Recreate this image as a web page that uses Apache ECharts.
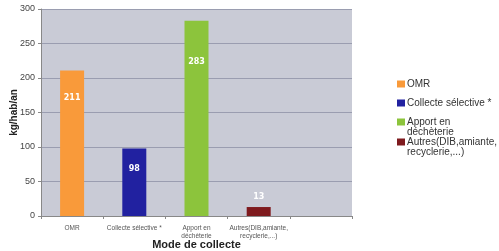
<!DOCTYPE html>
<html lang="fr">
<head>
<meta charset="UTF-8">
<title>Mode de collecte</title>
<script src="https://cdn.jsdelivr.net/npm/echarts@6.0.0/dist/echarts.min.js"></script>
<style>
  html, body { margin: 0; padding: 0; background: #fff; }
  #chart { width: 499px; height: 251px; }
</style>
</head>
<body>
<div id="chart"></div>
<script>
  // données
  const categories = ['OMR', 'Collecte sélective *', 'Apport en\ndéchèterie', 'Autres(DIB,amiante,\nrecyclerie,...)', ''];
  const seriesNames = ['OMR', 'Collecte sélective *', 'Apport en\ndéchèterie', 'Autres(DIB,amiante,\nrecyclerie,...)'];
  const values = [211, 98, 283, 13];
  const colors = ['#f99a3a', '#2121a0', '#8cc43c', '#7e1a1e'];
  const yTicks = [0, 50, 100, 150, 200, 250, 300];

  // style : écart du libellé sous le haut de la barre (négatif = au-dessus)
  const labelDist = [24, 17, 37, -6];
  // centre vertical de la 1re ligne de chaque entrée de légende
  const legendCenters = [84, 103, 122, 142];

  const chart = echarts.init(document.getElementById('chart'));

  const series = seriesNames.map((name, i) => {
    const inside = labelDist[i] >= 0;
    return {
      name: name,
      type: 'bar',
      stack: 'all',
      barWidth: 24,
      itemStyle: { color: colors[i] },
      label: {
        show: true,
        position: inside ? 'insideTop' : 'top',
        distance: Math.abs(labelDist[i]),
        color: '#fff',
        fontWeight: 'bold',
        fontSize: 8,
        fontFamily: 'DejaVu Sans'
      },
      data: categories.map((c, j) => (j === i ? values[i] : '-'))
    };
  });

  // une légende par entrée ; les noms sur 2 lignes reçoivent une ligne vide
  // au-dessus pour que le carré reste aligné sur la 1re ligne
  const legends = seriesNames.map((name, i) => {
    const multi = name.indexOf('\n') >= 0;
    return {
      orient: 'vertical',
      left: 397,
      top: legendCenters[i] - (multi ? 15 : 5),
      padding: 0,
      itemWidth: 8,
      itemHeight: 7,
      icon: 'rect',
      align: 'left',
      formatter: n => (multi ? ' \n' + n : n),
      textStyle: { fontSize: 10, color: '#333', lineHeight: 10, padding: [0, 0, 0, -3] },
      data: [name]
    };
  });

  chart.setOption({
    animation: false,
    textStyle: { fontFamily: 'Liberation Sans' },
    grid: {
      left: 41, right: 147, top: 9, bottom: 35,
      outerBoundsMode: 'none',
      containLabel: false,
      show: true,
      backgroundColor: '#c9cbd6',
      borderWidth: 0
    },
    legend: legends,
    xAxis: {
      type: 'category',
      data: categories,
      name: 'Mode de collecte',
      nameLocation: 'middle',
      nameGap: 23,
      nameMoveOverlap: false,
      nameTextStyle: { fontSize: 11, fontWeight: 'bold', color: '#222' },
      axisLine: { lineStyle: { color: '#888' } },
      axisTick: { show: true, length: 3, lineStyle: { color: '#888' } },
      axisLabel: { fontSize: 6.5, color: '#555', lineHeight: 8, margin: 8, interval: 0 }
    },
    yAxis: {
      type: 'value',
      min: yTicks[0],
      max: yTicks[yTicks.length - 1],
      interval: 50,
      name: 'kg/hab/an',
      nameLocation: 'middle',
      nameGap: 22,
      nameMoveOverlap: false,
      nameTextStyle: { fontSize: 10, fontWeight: 'bold', color: '#222' },
      axisLine: { show: true, lineStyle: { color: '#888' } },
      axisTick: { show: true, length: 3, lineStyle: { color: '#888' } },
      axisLabel: { fontSize: 9, color: '#444', margin: 6 },
      splitLine: { lineStyle: { color: '#9a9db0', width: 1 } }
    },
    series: series
  });
</script>
</body>
</html>
